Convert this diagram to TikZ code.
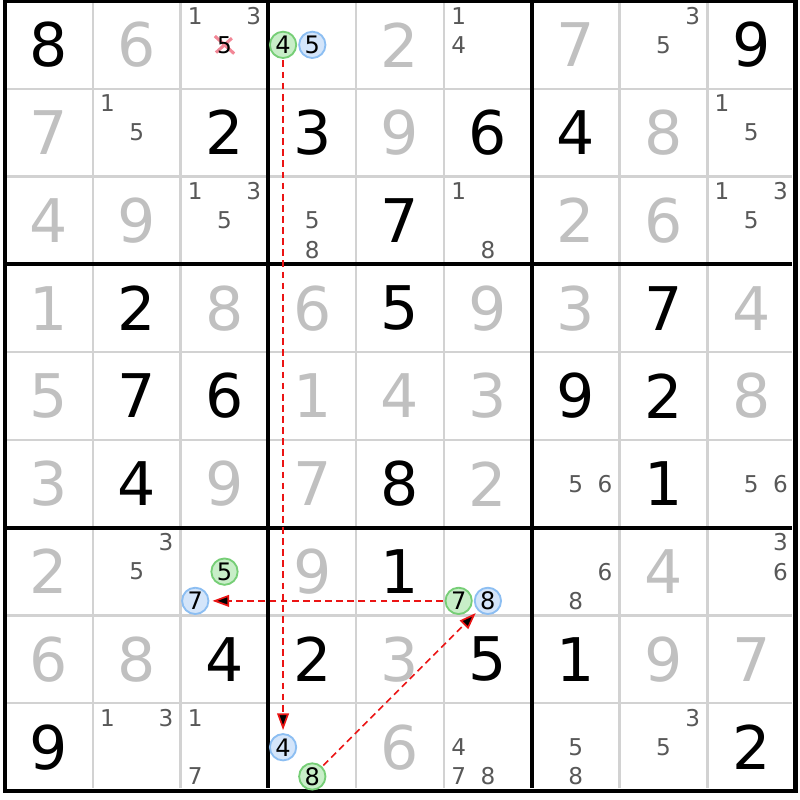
\documentclass[tikz,border=0pt]{standalone}
\usepackage{fontspec}
\setmainfont{DejaVu Sans}
\usetikzlibrary{arrows.meta}

\definecolor{solvedgray}{RGB}{192,192,192}
\definecolor{candgray}{RGB}{88,88,88}
\definecolor{thingray}{RGB}{210,210,210}
\definecolor{ongreen}{RGB}{200,238,200}
\definecolor{ongreenline}{RGB}{118,206,118}
\definecolor{offblue}{RGB}{212,229,250}
\definecolor{offblueline}{RGB}{140,190,242}
\definecolor{linkred}{RGB}{235,20,20}
\definecolor{crosspink}{RGB}{242,135,150}

\tikzset{
	given/.style={inner sep=0pt,font=\fontsize{19.5}{19.5}\selectfont},
	solved/.style={given,text=solvedgray},
	cand/.style={inner sep=0pt,font=\fontsize{7.5}{7.5}\selectfont,text=candgray},
	candon/.style={circle,inner sep=0pt,minimum size=0.3cm,line width=0.6pt,
		draw=ongreenline,fill=ongreen,font=\fontsize{7.8}{7.8}\selectfont},
	candoff/.style={candon,draw=offblueline,fill=offblue},
	linkline/.style={draw=linkred,line width=0.55pt,dash pattern=on 2.2pt off 1.4pt},
	cellline/.style={draw=thingray,line width=0.75pt},
	boxline/.style={draw=black,line width=1.3pt}
}

\begin{document}
\begin{tikzpicture}[x=1cm,y=-1cm,>={Triangle[length=5.4pt,width=3.8pt]},shorten >=1pt,shorten <=0.5pt]

\useasboundingbox (-0.057,-0.011) rectangle (9.055,9.100);

% grid
\foreach \i in {1,2,4,5,7,8} {
	\draw[cellline] (\i,0) -- (\i,9);
	\draw[cellline] (0,\i) -- (9,\i);
}
\foreach \i in {3,6} {
	\draw[boxline] (\i,0) -- (\i,9);
	\draw[boxline] (0,\i) -- (9,\i);
}
\draw[boxline,line width=1.5pt] (0,0) rectangle (9,9);

% givens
\foreach \r/\c/\d in {0/0/8,0/8/9,1/2/2,1/3/3,1/5/6,1/6/4,2/4/7,3/1/2,3/4/5,3/7/7,
		4/1/7,4/2/6,4/6/9,4/7/2,5/1/4,5/4/8,5/7/1,6/4/1,7/2/4,7/3/2,7/5/5,7/6/1,
		8/0/9,8/8/2}
	\node[given] (n\r\c) at (\c+0.5,\r+0.5) {\d};

% solved cells
\foreach \r/\c/\d in {0/1/6,0/4/2,0/6/7,1/0/7,1/4/9,1/7/8,2/0/4,2/1/9,2/6/2,2/7/6,
		3/0/1,3/2/8,3/3/6,3/5/9,3/6/3,3/8/4,4/0/5,4/3/1,4/4/4,4/5/3,4/8/8,
		5/0/3,5/2/9,5/3/7,5/5/2,6/0/2,6/3/9,6/7/4,7/0/6,7/1/8,7/4/3,7/7/9,7/8/7,8/4/6}
	\node[solved] (n\r\c) at (\c+0.5,\r+0.5) {\d};

% candidates
\foreach \r/\c/\d in {0/2/1,0/2/3,0/5/1,0/5/4,0/7/3,0/7/5,1/1/1,1/1/5,1/8/1,1/8/5,
		2/2/1,2/2/3,2/2/5,2/3/5,2/3/8,2/5/1,2/5/8,2/8/1,2/8/3,2/8/5,
		5/6/5,5/6/6,5/8/5,5/8/6,6/1/3,6/1/5,6/6/6,6/6/8,6/8/3,6/8/6,
		8/1/1,8/1/3,8/2/1,8/2/7,8/5/4,8/5/7,8/5/8,8/6/5,8/6/8,8/7/3,8/7/5} {
	\pgfmathsetmacro{\cx}{\c+0.5+(mod(\d-1,3)-1)/3}
	\pgfmathsetmacro{\cy}{\r+0.5+(floor((\d-1)/3)-1)/3}
	\node[cand] (k\r\c\d) at (\cx,\cy) {\d};
}

% eliminated 5
\coordinate (x5) at (2.5,0.5);
\draw[crosspink,line width=1pt] ([shift={(-0.11,-0.1)}]x5) -- ([shift={(0.11,0.1)}]x5)
	([shift={(-0.11,0.1)}]x5) -- ([shift={(0.11,-0.1)}]x5);
\node[cand,text=black] (k025) at (x5) {5};

% chain candidates
\node[candon]   (a4) at (3.167,0.5)   {4};
\node[candoff]  (a5) at (3.5,0.5)     {5};
\node[candon]   (b5) at (2.5,6.5)     {5};
\node[candoff]  (b7) at (2.167,6.833) {7};
\node[candon]   (c7) at (5.167,6.833) {7};
\node[candoff]  (c8) at (5.5,6.833)   {8};
\node[candoff]  (d4) at (3.167,8.5)   {4};
\node[candon]   (d8) at (3.5,8.833)   {8};

	\path[->,linkline] (a4) edge (d4)
						(c7) edge (b7)
						(d8) edge (c8);
\end{tikzpicture}
\end{document}
